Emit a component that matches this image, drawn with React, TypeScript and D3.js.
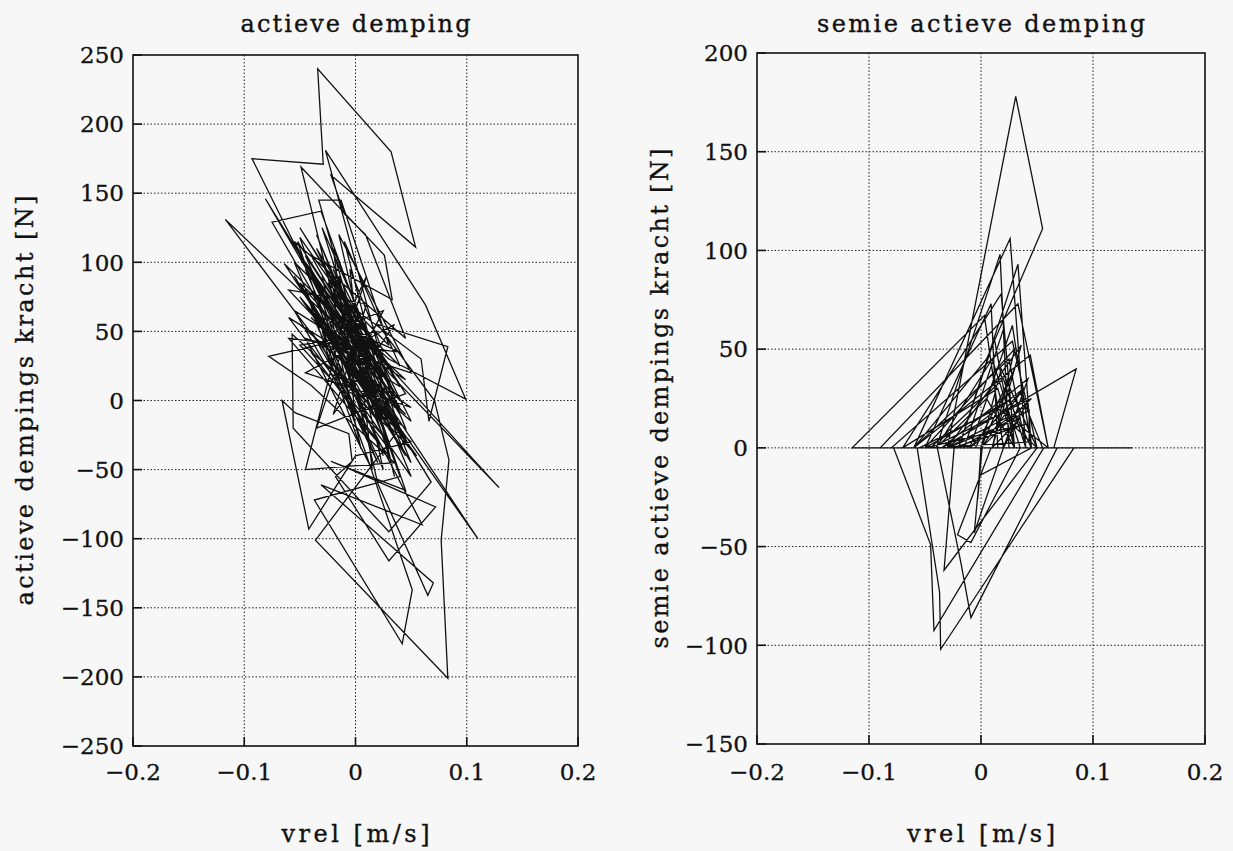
import React from 'react';
import * as d3 from 'd3';

// velocity ticks (shared) and force ticks per panel
const xTicks = [-0.2, -0.1, 0, 0.1, 0.2];
const leftYTicks = [-250, -200, -150, -100, -50, 0, 50, 100, 150, 200, 250];
const rightYTicks = [-150, -100, -50, 0, 50, 100, 150, 200];

// actieve demping: [vrel, kracht]
const activePath: [number, number][] = [
  [0.005, 35], [-0.04, 95], [0.035, -25], [-0.05, 75], [0.025, 5], [-0.035, 120], [0.045, -40], [-0.055, 90], [0.02, -15], [-0.117, 131],
  [0.015, 30], [-0.045, 105], [0.03, -35], [-0.06, 60], [0.04, 10], [-0.03, 100], [0.05, -55], [-0.04, 50], [0.01, -20], [-0.05, 118],
  [0.035, 20], [-0.064, 99], [0.02, -5], [-0.033, 145], [-0.013, 145], [0.03, 40], [-0.025, 85], [0.045, -30], [-0.045, 70], [0.015, 0],
  [-0.093, 175], [-0.029, 171], [-0.034, 240], [0.032, 180], [0.054, 111], [-0.022, 163], [-0.01, 135], [0.009, 120], [0.045, 45], [-0.055, 115],
  [0.025, -10], [-0.075, 129], [-0.031, 137], [0.04, -20], [-0.035, 110], [0.03, 25], [-0.05, 85], [0.05, -45], [-0.02, 95], [0.035, -5],
  [-0.027, 181], [0.063, 69], [0.099, 1], [0.03, 30], [-0.04, 80], [0.02, -30], [-0.06, 45], [0.04, 35], [-0.03, 60], [0.05, -35],
  [-0.081, 146], [0.0, 40], [-0.045, 95], [0.025, -40], [-0.035, 75], [0.045, 15], [-0.055, 65], [0.01, -25], [-0.049, 169], [0.026, 105],
  [0.033, 73], [-0.04, 105], [0.04, -10], [-0.025, 70], [0.03, -30], [-0.05, 40], [0.02, 50], [-0.078, 32], [-0.04, 11], [0.035, -45],
  [-0.045, -50], [-0.01, 60], [0.129, -63], [0.03, 20], [-0.02, 80], [0.04, -55], [-0.037, -72], [0.042, -176], [0.051, -137], [0.01, -40],
  [-0.03, 50], [0.06, -90], [-0.031, -61], [0.07, -132], [0.065, -141], [0.02, -60], [-0.01, 45], [0.11, -100], [0.04, -20], [-0.036, -101],
  [0.083, -201], [0.077, -101], [0.084, -43], [0.071, 0], [0.02, 55], [0.083, 39], [0.066, -15], [0.059, 30], [-0.015, 75], [0.045, -65],
  [-0.022, -44], [-0.007, -49], [0.035, -64], [0.072, -77], [0.03, -116], [-0.018, -55], [-0.003, -44], [-0.006, -24], [-0.054, -9], [-0.066, 0],
  [-0.042, -93], [0.0, -40], [0.05, -30], [-0.057, 48], [-0.056, -20], [0.03, -95], [0.068, -59], [0.0, 30], [-0.04, 60], [0.04, -5],
  [-0.045, 100], [0.03, 15], [-0.035, 55], [0.025, -50], [-0.015, 90], [0.05, -15], [-0.05, 55], [0.015, 10], [-0.03, 125], [0.035, 5],
  [-0.052, 115], [0.0, -10], [-0.02, 110], [0.045, -20], [-0.04, 35], [0.03, -40], [-0.025, 100], [0.02, 20], [-0.045, 80], [0.005, -35],
  [-0.03, 90], [0.04, 0], [-0.02, 50], [0.025, 65], [-0.01, 10], [0.03, -20], [-0.035, 85], [0.015, 45], [-0.005, 25],
  [0.045, -10], [-0.06, 80], [0.01, 70], [-0.02, -10], [0.035, 55], [-0.045, 20], [0.05, -5], [-0.03, 40], [0.02, -45], [-0.055, 100],
  [0.04, 25], [-0.01, 115], [0.03, -10], [-0.04, 65], [0.055, -40], [-0.025, 30], [0.01, 90], [-0.035, -20], [0.045, 5], [-0.05, 125],
  [0.0, 60], [0.035, -55], [-0.015, 120], [0.05, 20], [-0.045, 45], [0.015, -50], [-0.005, 95], [0.025, 35],
];

// semie actieve demping: [vrel, kracht]
const semiPath: [number, number][] = [
  [-0.03, 0], [0.031, 178], [0.055, 111], [0.005, 45], [-0.06, 0], [0.026, 106], [0.04, 0], [-0.04, 0], [0.017, 98], [0.025, 0],
  [-0.02, 0], [0.033, 93], [0.045, 0], [0.005, 0], [-0.07, 0], [0.018, 78], [0.03, 0], [-0.115, 0], [0.003, 67], [0.02, 0],
  [-0.09, 0], [0.033, 73], [0.06, 0], [-0.05, 0], [0.009, 73], [0.015, 0], [-0.08, 0], [0.028, 54], [0.05, 0], [-0.03, 0],
  [0.036, 52], [0.01, 0], [-0.06, 0], [0.044, 47], [0.06, 0], [-0.035, 0], [0.085, 40], [0.065, 0], [-0.02, 0], [0.043, 19],
  [0.043, 3], [-0.045, 0], [0.02, 35], [0.04, 0], [-0.01, 0], [0.035, 28], [0.055, 0], [-0.07, 0], [0.015, 30], [0.03, 0],
  [-0.025, 0], [0.04, 12], [-0.05, 0], [0.025, 24], [0.045, 0],
  [-0.078, 0], [-0.045, -49], [-0.042, -92.5], [0.056, 0], [0.03, 0], [-0.057, 0], [-0.037, -73], [-0.036, -102], [0.083, 0], [0.068, 0],
  [-0.009, -86], [-0.018, -58], [-0.039, 0], [-0.024, 0], [-0.033, -62], [0.05, 0], [0.0, 0], [-0.003, -26], [-0.001, -14], [0.045, 0],
  [0.009, 0], [-0.021, -44], [-0.009, -48], [0.035, 0], [0.001, 0], [-0.006, -43], [0.02, 0],
  [-0.04, 0], [0.01, 45], [0.035, 0], [-0.015, 0], [0.02, 60], [0.025, 0], [-0.055, 0], [0.015, 20], [0.06, 0], [-0.005, 0],
  [0.03, 40], [0.0, 0], [0.038, 30], [-0.03, 0], [0.022, 15], [0.05, 0], [-0.01, 0], [0.04, 22], [0.02, 0],
  [-0.05, 0], [0.03, 50], [0.01, 0], [-0.035, 0], [0.042, 35], [0.02, 0], [-0.06, 0], [0.025, 45], [0.04, 0], [-0.02, 0],
  [0.012, 55], [0.03, 0], [-0.045, 0], [0.045, 25], [0.0, 0], [0.018, 40], [0.05, 0], [-0.03, 0], [0.035, 15], [0.01, 0],
  [-0.01, 0], [0.028, 62], [0.045, 0], [-0.04, 0], [0.005, 25], [0.03, 0], [0.06, 0], [0.135, 0],
];

const FONT = '"DejaVu Serif", serif';
const fmt = (v: number) => String(v).replace('-', '\u2212');

type PanelProps = {
  title: string;
  titleLen: number;
  yLabel: string;
  yLabelLen: number;
  yLabelX: number;
  yTicks: number[];
  data: [number, number][];
  left: number;
  right: number;
  top: number;
  bottom: number;
};

function Panel({ title, titleLen, yLabel, yLabelLen, yLabelX, yTicks, data, left, right, top, bottom }: PanelProps) {
  const x = d3.scaleLinear().domain([-0.2, 0.2]).range([left, right]);
  const y = d3.scaleLinear().domain([yTicks[0], yTicks[yTicks.length - 1]]).range([bottom, top]);
  const line = d3.line<[number, number]>().x((d) => x(d[0])).y((d) => y(d[1]));
  const cx = (left + right) / 2;
  const cy = (top + bottom) / 2;

  return (
    <g fontFamily={FONT} fill="#111" stroke="none">
      <text x={cx} y={32} textAnchor="middle" fontSize={24} textLength={titleLen} lengthAdjust="spacing"
        stroke="#111" strokeWidth={0.35}>{title}</text>

      {/* dotted grid */}
      {xTicks.slice(1, -1).map((t) => (
        <line key={'gx' + t} x1={x(t)} x2={x(t)} y1={top} y2={bottom} stroke="#222" strokeWidth={1} strokeDasharray="1.5,2" />
      ))}
      {yTicks.slice(1, -1).map((t) => (
        <line key={'gy' + t} x1={left} x2={right} y1={y(t)} y2={y(t)} stroke="#222" strokeWidth={1} strokeDasharray="1.5,2" />
      ))}

      <path d={line(data) || ''} fill="none" stroke="#111" strokeWidth={1.3} strokeLinejoin="miter" />

      <rect x={left} y={top} width={right - left} height={bottom - top} fill="none" stroke="#111" strokeWidth={1.6} />

      {yTicks.map((t) => (
        <g key={'ty' + t}>
          <line x1={left} x2={left + 9} y1={y(t)} y2={y(t)} stroke="#111" strokeWidth={1.6} />
          <text x={left - 9} y={y(t)} dy="0.36em" textAnchor="end" fontSize={23} stroke="#111" strokeWidth={0.3}>{fmt(t)}</text>
        </g>
      ))}
      {xTicks.map((t) => (
        <g key={'tx' + t}>
          <line x1={x(t)} x2={x(t)} y1={bottom} y2={bottom - 9} stroke="#111" strokeWidth={1.6} />
          <text x={x(t)} y={780} textAnchor="middle" fontSize={23} stroke="#111" strokeWidth={0.3}>{fmt(t)}</text>
        </g>
      ))}

      <text x={cx} y={842} textAnchor="middle" fontSize={24} textLength={148} lengthAdjust="spacing"
        stroke="#111" strokeWidth={0.35}>vrel [m/s]</text>
      <text
        transform={`translate(${yLabelX},${cy}) rotate(-90)`}
        dy="0.35em"
        textAnchor="middle"
        fontSize={24}
        textLength={yLabelLen}
        lengthAdjust="spacing"
        stroke="#111"
        strokeWidth={0.35}
      >
        {yLabel}
      </text>
    </g>
  );
}

export default function App() {
  return (
    <svg width={1233} height={851} style={{ position: 'absolute', left: 0, top: 0, background: '#f7f7f7' }}>
      <Panel
        title="actieve demping"
        titleLen={230}
        yLabel="actieve dempings kracht [N]"
        yLabelLen={410}
        yLabelX={25}
        yTicks={leftYTicks}
        data={activePath}
        left={133}
        right={578}
        top={55}
        bottom={746}
      />
      <Panel
        title="semie actieve demping"
        titleLen={328}
        yLabel="semie actieve dempings kracht [N]"
        yLabelLen={500}
        yLabelX={660}
        yTicks={rightYTicks}
        data={semiPath}
        left={757}
        right={1205}
        top={53}
        bottom={744}
      />
    </svg>
  );
}
